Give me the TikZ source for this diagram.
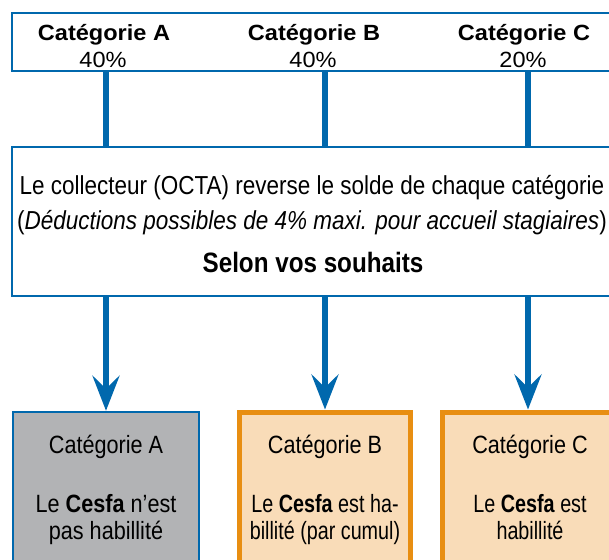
\documentclass[tikz,border=0pt]{standalone}
\usepackage{fontspec}
\setmainfont{Liberation Sans}
\newfontfamily\headfont[FakeStretch=1.07]{Liberation Sans}
\newfontfamily\condfont[FakeStretch=0.865]{Liberation Sans}
\newfontfamily\narrowfont[FakeStretch=0.79]{Liberation Sans}
\usetikzlibrary{arrows.meta}
\definecolor{octablue}{HTML}{0068AD}
\definecolor{cesorange}{HTML}{E88E12}
\definecolor{cespeach}{HTML}{F9DCB8}
\definecolor{cesgray}{HTML}{B2B3B5}
\tikzset{
  frame/.style={draw=octablue, line width=2.5pt, fill=white, inner sep=0pt},
  head/.style={font=\headfont\fontsize{22}{25}\selectfont, inner sep=0pt, anchor=base},
  txt/.style={font=\condfont\fontsize{26}{30}\selectfont, inner sep=0pt, anchor=base},
  boxtxt/.style={txt, font=\condfont\fontsize{25}{29}\selectfont},
  tighttxt/.style={txt, font=\narrowfont\fontsize{25}{29}\selectfont},
  finbox/.style={minimum height=166pt, inner sep=0pt},
  nonbox/.style={finbox, draw=octablue, line width=2.5pt, fill=cesgray},
  okbox/.style={finbox, draw=cesorange, line width=5pt, fill=cespeach},
  link/.style={draw=octablue, line width=6.5pt},
  flow/.style={link, -{Stealth[length=35pt, width=27pt, inset=13pt]}}
}

\begin{document}
\begin{tikzpicture}[x=1pt, y=-1pt]
        \useasboundingbox (0,0) rectangle (609,559);
        \clip (0,0) rectangle (609,559);
        %boxes
        \node[frame, minimum width=604pt, minimum height=58pt] (repart) at (314,42) {};
        \node[frame, minimum width=604pt, minimum height=149pt] (collect) at (314,221.5) {};
        \node[nonbox, minimum width=186pt] (finA) at (106,495) {};
        \node[okbox, minimum width=171pt] (finB) at (325,495) {};
        \node[okbox, minimum width=171pt] (finC) at (528,495) {};
        %links
        \foreach \c in {A,B,C} {
          \draw[link] (repart.south -| fin\c.north) -- (collect.north -| fin\c.north);
          \draw[flow] (collect.south -| fin\c.north) -- (fin\c.north);
        }
        %top labels
        \node[head] (titA) at (104,41) {\bfseries Catégorie A};
        \node[head] (pctA) at (103,68) {40\%};
        \node[head] (titB) at (314,41) {\bfseries Catégorie B};
        \node[head] (pctB) at (313,68) {40\%};
        \node[head] (titC) at (524,41) {\bfseries Catégorie C};
        \node[head] (pctC) at (523,68) {20\%};
        %middle text
        \node[txt] (solde) at (312,194) {Le collecteur (OCTA) reverse le solde de chaque catégorie};
        \node[txt] (deduc) at (312,229) {(\textit{Déductions possibles de 4\% maxi. pour accueil stagiaires})};
        \node[txt, font=\condfont\fontsize{28}{32}\selectfont] (souhait) at (313,272) {\bfseries Selon vos souhaits};
        %bottom labels
        \node[boxtxt] (nomA) at (106,453) {Catégorie A};
        \node[boxtxt] (avisA) at (106,512) {Le \textbf{Cesfa} n’est};
        \node[boxtxt] (suiteA) at (106,539) {pas habillité};
        \node[boxtxt] (nomB) at (325,453) {Catégorie B};
        \node[tighttxt] (avisB) at (325,512) {Le \textbf{Cesfa} est ha-};
        \node[tighttxt] (suiteB) at (325,539) {billité (par cumul)};
        \node[boxtxt] (nomC) at (530,453) {Catégorie C};
        \node[tighttxt] (avisC) at (530,512) {Le \textbf{Cesfa} est};
        \node[tighttxt] (suiteC) at (530,539) {habillité};
\end{tikzpicture}
\end{document}
